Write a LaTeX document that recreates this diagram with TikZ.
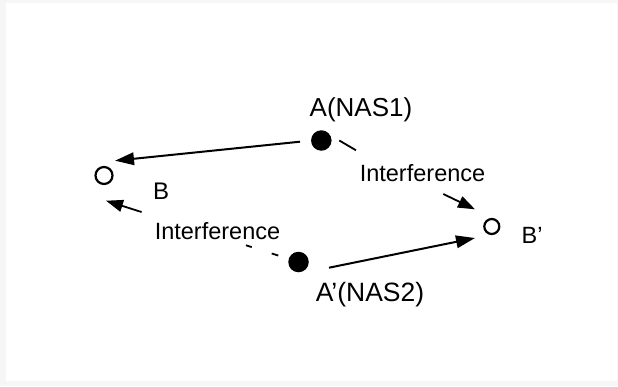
\documentclass[tikz,border=0pt]{standalone}
\usepackage{fontspec}
\setmainfont{Liberation Sans}
\usetikzlibrary{arrows.meta,calc}
\begin{document}
\begin{tikzpicture}[x=1pt,y=-1pt,
  station/.style={circle,fill=black,inner sep=0pt,minimum size=20.5pt},
  receiver/.style={circle,draw=black,line width=2.2pt,fill=white,inner sep=0pt,minimum size=15pt},
  lbl/.style={inner sep=0pt,text=black},
  link/.style={line width=2pt,-{Triangle[length=19pt,width=12.5pt]}},
  interf/.style={line width=1.8pt},
  interfarrow/.style={line width=1.8pt,-{Triangle[length=17pt,width=12pt]}}]
  % page and frame
  \fill[gray!7] (0,0) rectangle (618,386);
  \fill[white] (6,3) rectangle (617,381);
  \useasboundingbox (0,0) rectangle (618,386);

  % stations
  \node[station] (A) at (321.3,140.5) {};
  \node[station] (Ap) at (298.5,262) {};
  \node[receiver,minimum size=17pt] (B) at (104,175.5) {};
  \node[receiver,minimum size=15pt] (Bp) at (491.8,226.5) {};

  % labels
  \node[lbl,anchor=base,font=\fontsize{26}{28}\selectfont] (lA) at (361,116.5) {A(NAS1)};
  \node[lbl,anchor=base,font=\fontsize{26.5}{28}\selectfont] (lAp) at (370,301.5) {A’(NAS2)};
  \node[lbl,anchor=base west,font=\fontsize{24}{26}\selectfont] (lB) at (153,199.5) {B};
  \node[lbl,anchor=base west,font=\fontsize{23.5}{26}\selectfont] (lBp) at (521.5,243.3) {B’};
  \node[lbl,anchor=base,font=\fontsize{23.5}{26}\selectfont] (i1) at (422.5,181) {Interference};
  \node[lbl,anchor=base,font=\fontsize{23.5}{26}\selectfont] (i2) at (217.5,239.3) {Interference};

  % wanted links
  \coordinate (a1) at (300,141.7);
  \coordinate (b1) at (115,160.7);
  \draw[link] (a1) -- (b1);
  \coordinate (a2) at (329,267.7);
  \coordinate (b2) at (475,238);
  \draw[link] (a2) -- (b2);

  % interference from A towards B'
  \coordinate (u1) at (339.3,140.5);
  \coordinate (u2) at (356,150.3);
  \coordinate (u3) at (443.3,194);
  \coordinate (u4) at (475,209.3);
  \draw[interf] (u1) -- (u2);
  \draw[interfarrow] (u3) -- (u4);

  % interference from A' towards B
  \coordinate (t2) at (106,200.7);
  \draw[interf] ($(Ap)!0.105!(t2)$) -- ($(Ap)!0.139!(t2)$);
  \draw[interf] ($(Ap)!0.243!(t2)$) -- ($(Ap)!0.273!(t2)$);
  \draw[interfarrow] ($(Ap)!0.815!(t2)$) -- (t2);
\end{tikzpicture}
\end{document}
